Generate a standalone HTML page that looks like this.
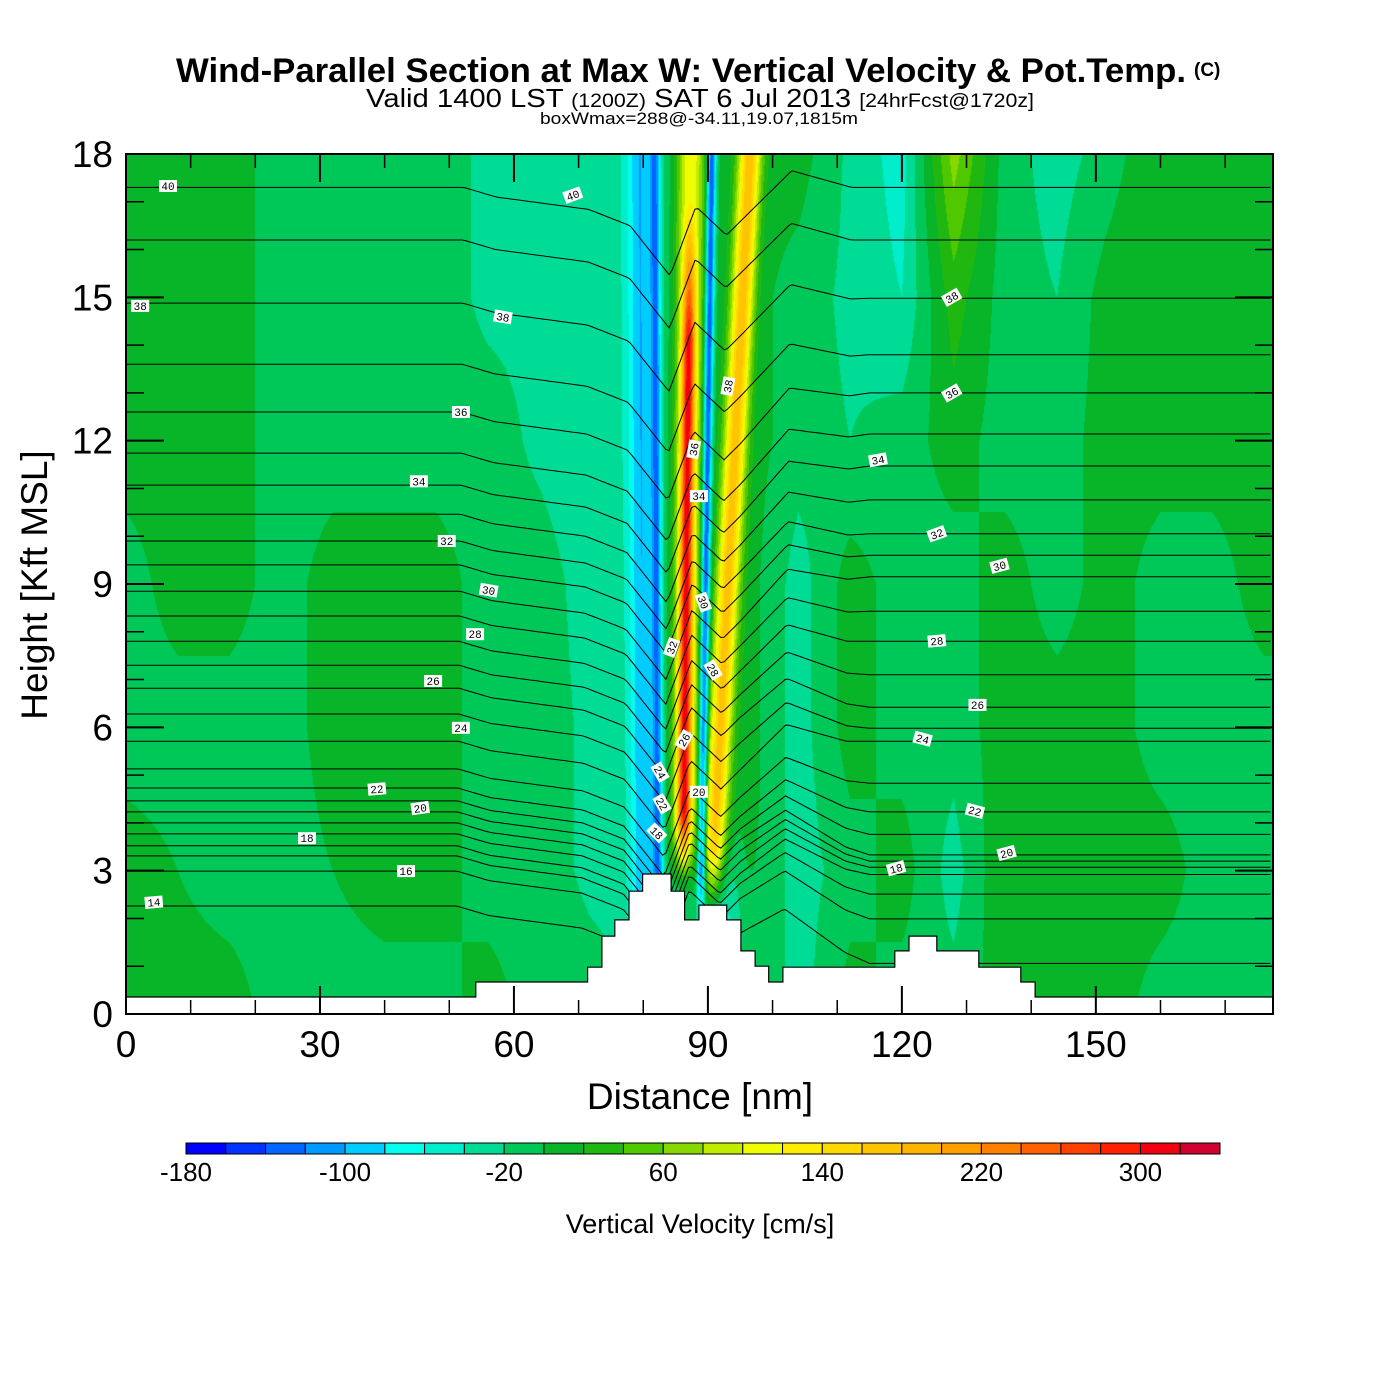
<!DOCTYPE html>
<html><head><meta charset="utf-8"><style>
html,body{margin:0;padding:0;background:#fff;}
#wrap{position:relative;width:1400px;height:1400px;font-family:"Liberation Sans",Arial,sans-serif;}
#field{position:absolute;left:126px;top:154px;}
#ov{position:absolute;left:0;top:0;}
</style></head><body>
<div id="wrap">
<canvas id="field" width="1147" height="860"></canvas>
<svg id="ov" width="1400" height="1400" xmlns="http://www.w3.org/2000/svg">
<g font-family="Liberation Sans, Arial, sans-serif">
<text x="176" y="82" font-size="34" font-weight="bold" textLength="1010" lengthAdjust="spacingAndGlyphs">Wind-Parallel Section at Max W: Vertical Velocity &amp; Pot.Temp.</text>
<text x="1194" y="76" font-size="19" font-weight="bold">(C)</text>
<text x="366" y="107" font-size="26" textLength="668" lengthAdjust="spacingAndGlyphs">Valid 1400 LST <tspan font-size="19">(1200Z)</tspan> SAT 6 Jul 2013 <tspan font-size="19">[24hrFcst@1720z]</tspan></text>
<text x="540" y="124" font-size="17" textLength="318" lengthAdjust="spacingAndGlyphs">boxWmax=288@-34.11,19.07,1815m</text>
<text x="700" y="1109" font-size="37" text-anchor="middle">Distance [nm]</text>
<text transform="translate(47,585) rotate(-90)" font-size="37" text-anchor="middle">Height [Kft MSL]</text>
<text x="700" y="1233" font-size="27" text-anchor="middle">Vertical Velocity [cm/s]</text>
</g>
<g id="contours"></g>
<g id="terrain"></g>
<g id="labels"></g>
<g id="axes"></g>
<g id="cbar"></g>
</svg>
</div>
<script>
// ---------- data ----------
const cbLevels = [-180,-160,-140,-120,-100,-80,-60,-40,-20,0,20,40,60,80,100,120,140,160,180,200,220,240,260,280,300,320,340];
const cbColors = ["#0000ff","#0033ff","#0066ff","#0099ff","#00ccff","#00ffee","#00eecc","#00dc96","#00c858","#08b428","#20b810","#50c800","#88d800","#c0ec00","#f0fc00","#ffec00","#ffd800","#ffc400","#ffb400","#ffa000","#ff8000","#ff6000","#ff4000","#ff2000","#f00010","#d00030"];
const cbTickLabels = [-180,-100,-20,60,140,220,300];
const xTickLabels = [0,30,60,90,120,150];
const yTickLabels = [0,3,6,9,12,15,18];
const bgX = [0,8,16,24,32,40,48,56,64,72,80,88,96,104,112,120,128,136,144,152,160,168,176];
const bgZ = [0,3,6,9,12,15,18];
const bgZ0  = [10,10,10,-10,-10,-10,-10,10,-10,-10,-20,0,10,-30,10,-10,-10,10,10,10,-10,-10,-10];
const bgZ3  = [10,0,-10,-10,0,10,10,-10,-10,-25,-30,0,10,-30,-10,10,-30,20,10,10,10,-10,-10];
const bgZ6  = [-10,-10,-10,-10,10,10,10,-10,-10,-25,-30,0,10,-30,10,-10,-10,10,10,10,-10,-10,-10];
const bgZ9  = [-10,10,10,-10,10,10,10,-10,-10,-30,-30,0,10,-30,10,-10,-10,10,-10,10,-10,-10,10];
const bgZ12 = [10,10,10,-10,-10,-10,-10,-10,-25,-35,-30,0,10,-10,-20,-10,10,-10,-10,10,10,10,10];
const bgZ15 = [10,10,10,-10,-10,-10,-10,-25,-25,-35,-30,0,10,-10,-25,-40,30,-10,-20,10,20,10,10];
const bgZ18 = [10,10,10,-10,-10,-10,-10,-25,-25,-35,-30,0,10,10,-25,-50,70,-10,-30,-10,20,10,10];
// tilted updraft/downdraft stripes: cyanL, blue1, redHalo, redCore, blue2, yellow, cyanLow
const stripeAmp  = [-70,-90,120,200,-150,165,-60];
const stripeXBot = [80.0,82.3,86.2,86.2,89.0,90.8,93.0];
const stripeXTop = [79.5,81.8,87.3,87.3,90.6,96.5,96.0];
const stripeSig  = [2.0,0.8,2.2,1.0,0.7,1.8,3.0];
const stripeZLo  = [0,1.5,2.5,2.8,1.5,2.0,0];
const stripeZHi  = [19,19,19,17,19,19,4.5];
// potential temperature contours
const thetaVals  = [14,15,16,17,18,19,20,21,22,23,24,25,26,27,28,29,30,31,32,33,34,35,36,37,38,39,40];
const thetaLeftZ = [2.26,2.99,3.31,3.52,3.77,4.0,4.23,4.46,4.73,5.13,5.71,6.28,6.82,7.3,7.8,8.33,8.85,9.4,9.9,10.46,11.07,11.74,12.6,13.6,14.88,16.2,17.3];
const thetaRightDz = [-1.2,-1.0,-0.8,-0.6,-0.7,-0.8,-0.9,-0.7,-0.5,-0.3,0,-0.3,-0.4,-0.2,0,0.1,0.3,0.2,0.15,0.3,0.4,0.4,0.4,0.2,0.1,0,0];
const shapeRel = [-35,-30,-15.7,-9.3,-3.1,0.9,5.6,15.7,25];
const shapeDz  = [0,-0.2,-0.46,-0.8,-1.85,-0.4,-1.0,0.35,0];
const labTheta = [40,40,38,38,36,34,32,30,28,26,24,22,20,18,16,14, 38,36,34,30,32,28,26,24,22,20,18, 38,36,34,32,30,28,26,24,22,20,18];
const labX = [6.5,69.1,2.2,58.3,51.8,45.3,49.6,56.1,54.0,47.5,51.8,38.8,45.5,28.0,43.3,4.3, 93.1,87.8,88.6,89.3,84.4,90.8,86.3,82.6,82.9,88.6,82.1, 127.7,127.7,116.3,125.4,135.1,125.4,131.7,123.2,131.3,136.2,119.1];
const labZ = [17.33,17.14,14.82,14.59,12.6,11.15,9.9,8.87,7.95,6.97,5.99,4.71,4.31,3.68,2.99,2.34, 13.14,11.82,10.84,8.62,7.67,7.2,5.74,5.06,4.4,4.65,3.79, 15.0,13.0,11.6,10.05,9.38,7.81,6.47,5.76,4.25,3.37,3.05];
const labAng = [0,-20,0,10,0,0,0,10,0,0,0,-5,-8,0,0,-5, -80,-80,0,70,-70,60,-60,60,60,0,45, -30,-30,-10,-20,-15,-5,0,15,15,-15,-15];
const terrX = [0,54.1,71.4,73.6,75.6,77.8,79.9,84.3,86.4,88.6,92.9,95.1,97.3,99.4,101.6,118.9,121.1,125.4,131.9,138.4,140.6,177.4];
const terrH = [0.356,0.67,0.98,1.63,1.97,2.57,2.93,2.57,1.97,2.28,1.97,1.32,1.0,0.67,0.98,1.32,1.63,1.32,0.98,0.67,0.356,0.356];

// ---------- axes ----------
const PX0=126, PX1=1273, PY0=1014, PY1=154, XMAX=177.4, ZMAX=18;
const sx = x => PX0 + x*(PX1-PX0)/XMAX;
const sy = z => PY0 - z*(PY0-PY1)/ZMAX;
const NS="http://www.w3.org/2000/svg";
function mk(tag, attrs, parent){const e=document.createElementNS(NS,tag);for(const k in attrs)e.setAttribute(k,attrs[k]);parent.appendChild(e);return e;}

// ---------- field ----------
const bgRows=[bgZ0,bgZ3,bgZ6,bgZ9,bgZ12,bgZ15,bgZ18];
function interp(xs, ys, x){ if(x<=xs[0])return ys[0]; for(let i=1;i<xs.length;i++){ if(x<=xs[i]){const t=(x-xs[i-1])/(xs[i]-xs[i-1]);return ys[i-1]+t*(ys[i]-ys[i-1]);} } return ys[ys.length-1]; }
function bgVal(x,z){
  let zi=Math.min(bgZ.length-2,Math.max(0,Math.floor(z/3))); const tz=Math.min(1,Math.max(0,(z-bgZ[zi])/3));
  const a=interp(bgX,bgRows[zi],x), b=interp(bgX,bgRows[zi+1],x); return a+(b-a)*tz;
}
function ramp(v){return Math.max(0,Math.min(1,v));}
function wVal(x,z){
  let w=bgVal(x,z);
  for(let i=0;i<stripeAmp.length;i++){
    const xc=stripeXBot[i]+(stripeXTop[i]-stripeXBot[i])*(z-3)/15;
    const d=(x-xc)/stripeSig[i];
    const f=ramp((z-stripeZLo[i])/1.5)*ramp((stripeZHi[i]-z)/3+ (stripeZHi[i]>=19?1:0));
    w+=stripeAmp[i]*Math.exp(-d*d)*f;
  }
  return w;
}
(function(){
  const cv=document.getElementById('field'), ctx=cv.getContext('2d');
  const W=cv.width,H=cv.height, img=ctx.createImageData(W,H);
  const rgb=cbColors.map(c=>[parseInt(c.substr(1,2),16),parseInt(c.substr(3,2),16),parseInt(c.substr(5,2),16)]);
  for(let j=0;j<H;j++){ const z=(PY0-(PY1+j+0.5))*ZMAX/(PY0-PY1);
    for(let i=0;i<W;i++){ const x=(i+0.5)*XMAX/(PX1-PX0);
      let b=Math.floor((wVal(x,z)-cbLevels[0])/20); b=Math.max(0,Math.min(cbColors.length-1,b));
      const p=(j*W+i)*4; img.data[p]=rgb[b][0];img.data[p+1]=rgb[b][1];img.data[p+2]=rgb[b][2];img.data[p+3]=255; } }
  ctx.putImageData(img,0,0);
})();

// ---------- contours ----------
(function(){
  const g=document.getElementById('contours');
  thetaVals.forEach((th,k)=>{
    const zL=thetaLeftZ[k]; const xr=stripeXBot[3]+(stripeXTop[3]-stripeXBot[3])*(zL-3)/15;
    let pts=[];
    for(let x=0;x<=XMAX+0.01;x+=0.5){
      const z=zL+interp(shapeRel,shapeDz,x-xr)+thetaRightDz[k]*ramp((x-95)/20);
      pts.push(sx(x).toFixed(1)+','+sy(z).toFixed(1));
    }
    const p=mk('polyline',{points:pts.join(' '),fill:'none',stroke:'#000','stroke-width':1},g);
    
    
  });
})();

// ---------- terrain ----------
(function(){
  const g=document.getElementById('terrain');
  let d='M'+sx(0)+','+sy(0);
  for(let i=0;i<terrX.length-1;i++){ d+=' L'+sx(terrX[i]).toFixed(1)+','+sy(terrH[i]).toFixed(1)+' L'+sx(terrX[i+1]).toFixed(1)+','+sy(terrH[i]).toFixed(1); }
  d+=' L'+sx(XMAX)+','+sy(0)+' Z';
  const p=mk('path',{d:d,fill:'#fff',stroke:'#000','stroke-width':1.2},g);
  
  
})();

// ---------- contour labels ----------
(function(){
  const g=document.getElementById('labels');
  labTheta.forEach((th,i)=>{
    const gg=mk('g',{transform:`translate(${sx(labX[i]).toFixed(1)},${sy(labZ[i]).toFixed(1)}) rotate(${labAng[i]})`},g);
    
    
    mk('rect',{x:-9,y:-6,width:18,height:12,fill:'#fff'},gg);
    const t=mk('text',{x:0,y:4,'font-size':11,'text-anchor':'middle','font-family':'Liberation Mono, monospace'},gg);
    t.textContent=th;
  });
})();

// ---------- axes ----------
(function(){
  const g=document.getElementById('axes');
  const fr=mk('rect',{x:PX0,y:PY1,width:PX1-PX0,height:PY0-PY1,fill:'none',stroke:'#000','stroke-width':2},g);
  
  
  for(let v=0;v<=170;v+=10){ const maj=v%30===0, L=maj?28:14, x=sx(v);
    mk('line',{x1:x,y1:PY0,x2:x,y2:PY0-L,stroke:'#000','stroke-width':maj?2:1.5},g);
    mk('line',{x1:x,y1:PY1,x2:x,y2:PY1+L,stroke:'#000','stroke-width':maj?2:1.5},g); }
  for(let v=0;v<=18;v+=1){ const maj=v%3===0, L=maj?38:18, y=sy(v);
    mk('line',{x1:PX0,y1:y,x2:PX0+L,y2:y,stroke:'#000','stroke-width':maj?2:1.5},g);
    mk('line',{x1:PX1,y1:y,x2:PX1-L,y2:y,stroke:'#000','stroke-width':maj?2:1.5},g); }
  xTickLabels.forEach(v=>{ const t=mk('text',{x:sx(v),y:1057,'font-size':37,'text-anchor':'middle','font-family':'Liberation Sans, Arial, sans-serif'},g);
    
    
    t.textContent=v; });
  yTickLabels.forEach(v=>{ const t=mk('text',{x:113,y:sy(v)+13,'font-size':37,'text-anchor':'end','font-family':'Liberation Sans, Arial, sans-serif'},g);
    
    
    t.textContent=v; });
})();

// ---------- colorbar ----------
(function(){
  const g=document.getElementById('cbar');
  
  
  const C0=186, C1=1220, n=cbColors.length, cw=(C1-C0)/n;
  const cx=v=>C0+(v-cbLevels[0])/20*cw;
  cbColors.forEach((c,i)=>{ const r=mk('rect',{x:(C0+i*cw).toFixed(2),y:1143,width:cw.toFixed(2),height:11,fill:c,stroke:'#000','stroke-width':1},g);
    
     });
  cbTickLabels.forEach(v=>{ const t=mk('text',{x:cx(v),y:1181,'font-size':26,'text-anchor':'middle','font-family':'Liberation Sans, Arial, sans-serif'},g);
    
    
    t.textContent=v; });
})();
</script>
</body></html>
